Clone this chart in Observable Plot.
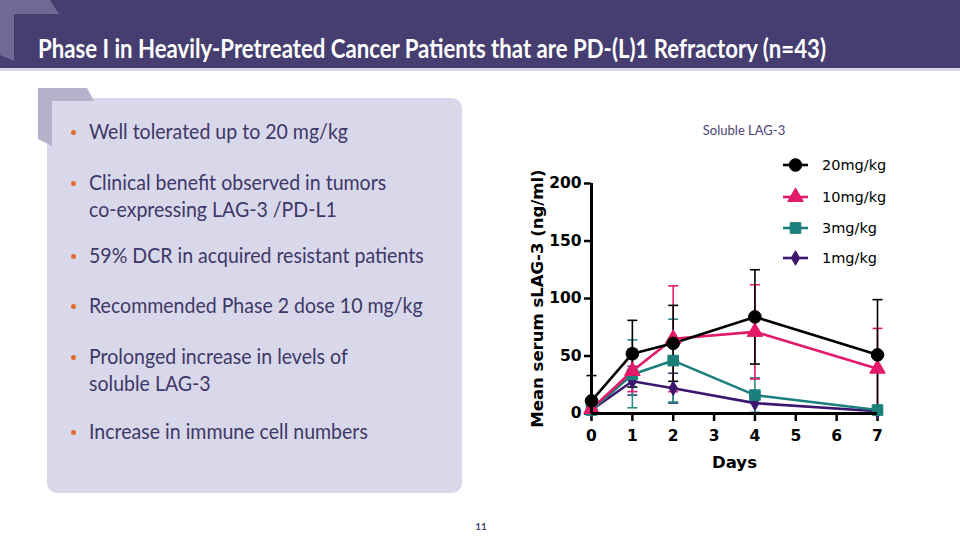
<!DOCTYPE html>
<html>
<head>
<meta charset="utf-8">
<script src="https://cdn.jsdelivr.net/npm/d3@7"></script>
<script src="https://cdn.jsdelivr.net/npm/@observablehq/plot@0.6"></script>
<style>
  html, body { margin: 0; padding: 0; background: #fff; }
  #slide { position: relative; width: 960px; height: 540px; overflow: hidden; background: #fff; }
  .abs { position: absolute; }
  #header { left: 0; top: 0; width: 960px; height: 68px; background: #463E70; }
  #headerline { left: 0; top: 68px; width: 960px; height: 3px; background: #D8D6E8; }
  #title { left: 38px; top: 29px; color: #fff; font-family: Lato, "Open Sans", sans-serif; font-weight: bold; font-size: 27px; line-height: 38px; white-space: nowrap; transform-origin: left center; }
  #panel { left: 47px; top: 98px; width: 415px; height: 395px; background: #D9D7EA; border-radius: 10px; }
  .bline { position: absolute; left: 89px; font-family: Lato, "Open Sans", sans-serif; font-size: 22px; line-height: 28px; color: #3E3868; white-space: nowrap; transform-origin: left center; }
  .bdot { position: absolute; left: 71px; width: 5px; height: 5px; border-radius: 50%; background: #E46C2E; }
  #subtitle { left: 744px; top: 122px; transform: translateX(-50%); font-family: Lato, "Open Sans", sans-serif; font-size: 13px; color: #4A4470; white-space: nowrap; }
  #pagenum { left: 481px; top: 520px; transform: translateX(-50%); font-family: Lato, "Open Sans", sans-serif; font-weight: bold; font-size: 10px; color: #4A4470; }
  #chart { left: 520px; top: 140px; }
  #legend { left: 783px; top: 0; }
  .lrow { position: absolute; left: 0; height: 20px; width: 120px; }
  .lrow svg { position: absolute; left: 0; top: 0; }
  .lrow span { position: absolute; left: 39px; top: 0; line-height: 20px; font-family: "DejaVu Sans", sans-serif; font-size: 14.5px; color: #000; white-space: nowrap; }
</style>
</head>
<body>
<div id="slide">
  <div id="header" class="abs"></div>
  <div id="headerline" class="abs"></div>
  <svg class="abs" style="left:0;top:0" width="80" height="70"><polygon points="0,0 50,0 59,14 14,14 14,61 0,55" fill="#6F6995"/></svg>
  <div id="title" class="abs">Phase I in Heavily-Pretreated Cancer Patients that are PD-(L)1 Refractory (n=43)</div>
  <div id="panel" class="abs"></div>
  <svg class="abs" style="left:0;top:0" width="120" height="160"><polygon points="38,88 87,88 94,101 52,101 52,146 38,139" fill="#B4B2CA"/></svg>
  <div id="bullets"></div>
  <div id="subtitle" class="abs">Soluble LAG-3</div>
  <div id="chart" class="abs"></div>
  <div id="legend" class="abs"></div>
  <div id="pagenum" class="abs">11</div>
</div>
<script>
// ---------------- data ----------------
const days = [0, 1, 2, 4, 7];
const seriesNames = ["20mg/kg", "10mg/kg", "3mg/kg", "1mg/kg"];
const mean20 = [11, 52, 61, 84, 51];
const hi20   = [33, 81, 94, 125, 99];
const lo20   = [0, 23, 28, 43, 3];
const mean10 = [4, 37, 65, 71, 39];
const hi10   = [6, 56, 111, 112, 74];
const lo10   = [2, 19, 19, 30, 4];
const mean3  = [3, 34, 46, 16, 3];
const hi3    = [5, 64, 82, 31, 5];
const lo3    = [1, 5, 10, 1, 1];
const mean1  = [3, 28, 22, 9, 2];
const hi1    = [4, 41, 35, 18, 3];
const lo1    = [2, 16, 9, 0, 1];
const xTicks = [0, 1, 2, 3, 4, 5, 6, 7];
const yTicks = [0, 50, 100, 150, 200];
const xTitle = "Days";
const yTitle = "Mean serum sLAG-3 (ng/ml)";
const bulletItems = [
  ["Well tolerated up to 20 mg/kg"],
  ["Clinical benefit observed in tumors", "co-expressing LAG-3 /PD-L1"],
  ["59% DCR in acquired resistant patients"],
  ["Recommended Phase 2 dose 10 mg/kg"],
  ["Prolonged increase in levels of", "soluble LAG-3"],
  ["Increase in immune cell numbers"]
];

// ---------------- styles ----------------
const seriesStyle = {
  "20mg/kg": {color: "#000000", err: "#000000", symbol: "circle", r: 6.3},
  "10mg/kg": {color: "#E3196A", err: "#E3196A", symbol: "triangle", r: 5.8},
  "3mg/kg":  {color: "#1B7F7C", err: "#2B8A86", symbol: "square", r: 6},
  "1mg/kg":  {color: "#3D166F", err: "#2E3B6E", symbol: "diamond", r: 4.4}
};
const legendTops = [155, 187, 218, 248];
const bulletTops = [132, 183, 256, 306, 357, 432];
const lineGap = 27;

// ---------------- table ----------------
const table = {
  "20mg/kg": [mean20, lo20, hi20],
  "10mg/kg": [mean10, lo10, hi10],
  "3mg/kg":  [mean3, lo3, hi3],
  "1mg/kg":  [mean1, lo1, hi1]
};
const rows = [];
for (const s of seriesNames) {
  const [m, lo, hi] = table[s];
  days.forEach((d, i) => rows.push({series: s, day: d, mean: m[i], lo: lo[i], hi: hi[i]}));
}

const cap = {draw(context, size) { const r = Math.sqrt(size / Math.PI); context.moveTo(-r, 0); context.lineTo(r, 0); }};

const drawOrder = ["1mg/kg", "3mg/kg", "10mg/kg", "20mg/kg"];
const errMarks = [], lineMarks = [], dotMarks = [];
for (const s of drawOrder) {
  const st = seriesStyle[s];
  const data = rows.filter(r => r.series === s);
  errMarks.push(Plot.ruleX(data, {x: "day", y1: "lo", y2: "hi", stroke: st.err, strokeWidth: 1.6}));
  errMarks.push(Plot.dot(data, {x: "day", y: "hi", symbol: cap, r: 5, stroke: st.err, strokeWidth: 1.6}));
  errMarks.push(Plot.dot(data, {x: "day", y: "lo", symbol: cap, r: 5, stroke: st.err, strokeWidth: 1.6}));
  lineMarks.push(Plot.line(data, {x: "day", y: "mean", stroke: st.color, strokeWidth: 2.6}));
  dotMarks.push(Plot.dot(data, {x: "day", y: "mean", symbol: st.symbol, r: st.r, fill: st.color, stroke: st.color, strokeWidth: 1}));
}

const chart = Plot.plot({
  width: 420,
  height: 340,
  marginLeft: 71,
  marginRight: 63,
  marginTop: 43,
  marginBottom: 67,
  x: {domain: [0, 7]},
  y: {domain: [0, 200]},
  style: {fontFamily: "'DejaVu Sans', sans-serif", fontSize: "15.5px", fontWeight: "bold", color: "#000", background: "transparent", overflow: "visible"},
  marks: [
    Plot.axisX({ticks: xTicks, tickSize: 8, tickPadding: 8, strokeWidth: 2.5, label: null, tickFormat: d => String(d)}),
    Plot.axisY({ticks: yTicks, tickSize: 7, tickPadding: 3, strokeWidth: 2.5, label: null, tickFormat: d => String(d)}),
    ...errMarks,
    ...lineMarks,
    ...dotMarks,
    Plot.ruleY([0], {strokeWidth: 3, stroke: "#000"}),
    Plot.ruleX([0], {strokeWidth: 3, stroke: "#000"}),
    Plot.text([xTitle], {text: d => d, frameAnchor: "bottom", dy: 54, fontSize: 16.5, fontWeight: "bold", fill: "#000"}),
    Plot.text([yTitle], {text: d => d, frameAnchor: "left", textAnchor: "middle", dx: -54, rotate: -90, fontSize: 16.5, fontWeight: "bold", fill: "#000"})
  ]
});
document.getElementById("chart").appendChild(chart);

// ---------------- legend ----------------
const legend = document.getElementById("legend");
seriesNames.forEach((s, i) => {
  const st = seriesStyle[s];
  const row = document.createElement("div");
  row.className = "lrow";
  row.style.top = legendTops[i] + "px";
  const symType = {circle: d3.symbolCircle, triangle: d3.symbolTriangle, square: d3.symbolSquare, diamond: d3.symbolDiamond}[st.symbol];
  const path = d3.symbol(symType, st.r * st.r * Math.PI)();
  row.innerHTML = `<svg width="30" height="20"><line x1="0" x2="25" y1="10" y2="10" stroke="${st.color}" stroke-width="2.6"/><path d="${path}" transform="translate(12.5,10)" fill="${st.color}" stroke="${st.color}"/></svg><span>${s}</span>`;
  legend.appendChild(row);
});

// ---------------- bullets ----------------
const bWrap = document.getElementById("bullets");
const lineEls = [];
bulletItems.forEach((lines, i) => {
  const top = bulletTops[i];
  const dot = document.createElement("div");
  dot.className = "bdot";
  dot.style.top = (top - 2) + "px";
  bWrap.appendChild(dot);
  lines.forEach((t, j) => {
    const el = document.createElement("div");
    el.className = "bline";
    el.textContent = t;
    el.style.top = (top + j * lineGap - 15) + "px";
    bWrap.appendChild(el);
    lineEls.push(el);
  });
});
// fit widths of Calibri-like text
const w0 = lineEls[0].getBoundingClientRect().width;
const k = 259 / w0;
lineEls.forEach(el => el.style.transform = `scaleX(${k})`);
const titleEl = document.getElementById("title");
const tw = titleEl.getBoundingClientRect().width;
titleEl.style.transform = `scaleX(${788 / tw})`;
</script>
</body>
</html>
